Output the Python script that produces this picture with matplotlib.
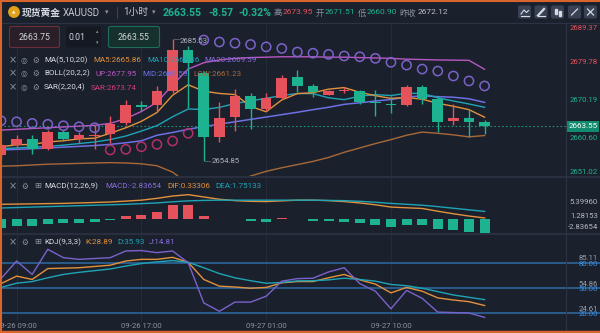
import numpy as np
import matplotlib
matplotlib.use("Agg")
import matplotlib.pyplot as plt
from matplotlib.patches import Rectangle, FancyBboxPatch, Circle

plt.rcParams['font.family'] = ['Roboto', 'Noto Sans CJK SC', 'DejaVu Sans']

# ---- 1h XAUUSD candles -------------------------------------------------------
opens = [2656.2, 2658.8, 2660.35, 2657.9, 2662.1, 2660.35, 2661.1, 2661.6,
         2664.4, 2668.85, 2668.85, 2672.5, 2682.9, 2677.0, 2660.8, 2665.9,
         2671.3, 2667.9, 2670.7, 2675.9, 2673.65, 2671.51, 2672.5, 2672.5,
         2669.7, 2669.2, 2668.85, 2673.55, 2670.5, 2664.8, 2665.65, 2664.7]
highs = [2659.4, 2661.3, 2661.3, 2662.7, 2662.7, 2662.2, 2663.96, 2666.1,
         2670.25, 2669.9, 2673.65, 2685.53, 2683.7, 2677.6, 2669.6, 2672.96,
         2671.96, 2671.96, 2676.6, 2677.7, 2674.2, 2672.8, 2673.4, 2672.8,
         2672.7, 2671.3, 2673.95, 2673.9, 2671.1, 2669.2, 2667.9, 2665.2]
lows = [2655.6, 2658.1, 2656.6, 2657.6, 2659.8, 2659.4, 2657.9, 2659.3,
        2663.96, 2667.3, 2667.3, 2671.9, 2668.2, 2654.85, 2659.6, 2662.3,
        2662.9, 2667.35, 2670.45, 2672.1, 2670.9, 2671.4, 2671.96, 2669.3,
        2666.2, 2666.9, 2668.6, 2669.2, 2662.1, 2663.8, 2660.90, 2661.6]
closes = [2658.9, 2660.4, 2657.9, 2662.0, 2660.35, 2661.3, 2661.25, 2664.2,
          2668.85, 2668.5, 2672.5, 2682.9, 2679.6, 2660.8, 2665.65, 2671.1,
          2667.9, 2670.7, 2675.7, 2673.65, 2672.2, 2672.4, 2672.7, 2669.7,
          2669.4, 2668.85, 2673.55, 2670.45, 2664.6, 2665.6, 2664.6, 2663.55]

ma5 = [2658.4, 2658.9, 2659.0, 2659.6, 2659.91, 2660.39, 2660.55, 2661.81,
       2663.18, 2664.81, 2667.05, 2671.39, 2674.03, 2672.42, 2671.85, 2671.57,
       2668.57, 2667.23, 2670.21, 2671.81, 2672.03, 2672.93, 2673.33, 2672.13,
       2671.28, 2670.61, 2670.84, 2670.39, 2669.37, 2668.61, 2667.76, 2665.86]
ma10 = [2657.9, 2658.1, 2658.3, 2658.5, 2658.8, 2659.2, 2659.6, 2660.2,
        2661.1, 2662.36, 2663.72, 2665.97, 2667.92, 2667.80, 2668.33, 2669.31,
        2669.98, 2670.63, 2671.32, 2671.83, 2671.80, 2670.75, 2670.28, 2671.17,
        2671.55, 2671.32, 2671.89, 2671.86, 2670.75, 2669.95, 2669.19, 2668.36]
ma20 = [2657.6, 2657.75, 2657.9, 2658.1, 2658.3, 2658.5, 2658.7, 2659.0,
        2659.4, 2659.9, 2661.3, 2662.0, 2662.8, 2663.5, 2664.1, 2664.7,
        2665.3, 2665.9, 2666.5, 2667.10, 2667.76, 2668.36, 2669.10, 2669.49,
        2669.94, 2670.32, 2670.94, 2671.25, 2671.04, 2670.89, 2670.50, 2669.59]
boll_up = [2662.6, 2662.8, 2663.0, 2663.2, 2663.4, 2663.6, 2663.8, 2664.3,
           2665.5, 2667.3, 2669.6, 2674.0, 2678.0, 2679.6, 2680.3, 2680.7,
           2680.9, 2681.0, 2681.1, 2681.1, 2681.1, 2681.0, 2681.0, 2680.9,
           2680.8, 2680.7, 2680.5, 2680.4, 2680.3, 2680.25, 2680.2, 2677.95]
boll_low = [2653.5, 2653.6, 2653.8, 2654.0, 2654.1, 2654.2, 2654.3, 2654.4,
            2654.3, 2654.1, 2653.6, 2652.0, 2649.0, 2647.5, 2647.8, 2649.5,
            2651.0, 2652.2, 2653.1, 2653.9, 2654.7, 2655.7, 2657.0, 2658.1,
            2659.2, 2660.2, 2661.3, 2662.1, 2661.8, 2661.4, 2660.9, 2661.23]
sar = [2664.97, 2664.7, 2664.3, 2664.06, 2663.7, 2663.45, 2663.2, 2657.6,
       2657.75, 2658.4, 2659.0, 2659.85, 2661.8, 2685.33, 2684.83, 2684.53,
       2684.2, 2683.6, 2683.2, 2682.3, 2682.0, 2681.7, 2681.3, 2681.1,
       2680.7, 2679.7, 2679.0, 2678.0, 2677.5, 2676.25, 2675.0, 2673.74]

macd_hist = [-1.79, -1.44, -1.44, -0.93, -0.86, -0.79, -0.6, -0.2,
             0.72, 0.93, 1.65, 3.08, 3.2, 0.79, 0.2, 0.15,
             -0.3, -0.5, 0.25, 0.2, -0.3, -0.35, -0.5, -0.85,
             -1.3, -1.67, -1.23, -1.3, -2.17, -2.39, -2.68, -2.83654]
dif = [3.3, 3.35, 3.4, 3.45, 3.5, 3.6, 3.7, 3.8, 4.0, 4.2, 4.6, 5.1, 5.4, 4.9,
       4.4, 4.1, 3.95, 3.9, 4.05, 4.2, 4.2, 4.1, 3.9, 3.6, 3.2, 2.7, 2.55, 2.4,
       1.8, 1.25, 0.75, 0.33306]
dea = [2.5, 2.6, 2.7, 2.8, 2.9, 3.0, 3.1, 3.2, 3.3, 3.45, 3.6, 3.85, 4.05,
       4.15, 4.2, 4.2, 4.2, 4.2, 4.2, 4.2, 4.2, 4.15, 4.1, 3.95, 3.75, 3.5,
       3.3, 3.1, 2.8, 2.45, 2.1, 1.75133]

k_line = [55, 64, 60, 73, 73.5, 74, 75.5, 77, 82, 84, 84, 86.4, 80.5, 60, 52,
          51, 49.5, 50.5, 56, 57.5, 57.5, 62, 66, 59.5, 54.5, 44, 50.5, 46, 38,
          35.5, 33.5, 28.89]
d_line = [50.5, 55.5, 57.5, 62, 66, 68.5, 70.5, 72.5, 76, 79, 81, 82.5, 80.5,
          74, 67, 62, 58.5, 55.5, 56.5, 58.3, 58.5, 59.5, 61.5, 60, 58, 54,
          52.5, 49.5, 45.5, 41.5, 38.7, 35.93]
j_line = [61, 82, 66, 96, 86, 84, 85, 86, 94, 94.5, 92, 94, 80, 32, 22, 33, 33,
          40, 58, 61, 61.5, 69, 74, 55, 46, 25, 47, 37.5, 21, 20.5, 20, 14.81]

time_ticks = [1, 9, 17, 25]
time_labels = ["09-26 09:00", "09-26 17:00", "09-27 01:00", "09-27 10:00"]
price_ticks = [2689.37, 2679.78, 2670.19, 2660.60, 2651.02]
macd_ticks = ["5.39960", "1.28153", "-2.83654"]
kdj_levels = [80, 50, 20]
kdj_marks = [85.11, 54.86, 24.61]
last_price = 2663.55

# ---- colours -----------------------------------------------------------------
BG = '#1b212c'
UPC = '#e5525c'
DNC = '#1db391'
GRID = '#252c39'
SEP = '#2c3343'
TXT = '#d6dae1'
GREY = '#8d939e'
ORANGE = '#e2913c'
TEAL = '#1ea4b6'
PURPLE = '#8a6ce0'
VIOLET = '#6c70e4'
MAGENTA = '#b956c2'
BROWN = '#a8693a'
SAR_UP = '#7c62c9'
SAR_DN = '#b2306a'
KBLUE = '#2c6ba6'

W, H = 600, 333
XLIM = (-0.064, 38.4)
fig = plt.figure(figsize=(W / 100, H / 100), dpi=100, facecolor=BG)


def px_axes(x0, y0, w, h, zorder=1):
    a = fig.add_axes([x0 / W, 1 - (y0 + h) / H, w / W, h / H], zorder=zorder)
    a.axis('off')
    return a


idx = np.arange(len(closes))

# ---- main price panel ----------------------------------------------------------
MAIN_TOP, MAIN_H = 24, 152
PMIN, PMAX = price_ticks[-1], price_ticks[0]
ax = px_axes(0, MAIN_TOP, W, MAIN_H)
ax.set_xlim(*XLIM)
ax.set_ylim(PMIN, PMAX)
for t in time_ticks:
    ax.axvline(t, color=GRID, lw=0.8, zorder=0)

ax.plot(idx, boll_up, color=MAGENTA, lw=1.0, zorder=2)
ax.plot(idx, boll_low, color=BROWN, lw=1.0, zorder=2)
ax.plot(idx, ma20, color=VIOLET, lw=1.1, zorder=2)
ax.plot(idx, ma10, color=TEAL, lw=1.0, zorder=2)
ax.plot(idx, ma5, color=ORANGE, lw=1.0, zorder=2)

for i in idx:
    o, h, l, c = opens[i], highs[i], lows[i], closes[i]
    col = UPC if c > o else DNC
    ax.vlines(i, l, h, color=col, lw=1.0, zorder=3)
    ax.add_patch(Rectangle((i - 0.34, min(o, c)), 0.68, max(abs(c - o), 0.25),
                           facecolor=col, edgecolor='none', zorder=3))

sar_a = np.array(sar)
above = sar_a > np.array(closes)
ax.scatter(idx[above], sar_a[above], s=44, facecolors='none', edgecolors=SAR_UP,
           linewidths=1.1, zorder=4)
ax.scatter(idx[~above], sar_a[~above], s=44, facecolors='none', edgecolors=SAR_DN,
           linewidths=1.1, zorder=4)
ax.axhline(last_price, xmin=0, xmax=566 / W, color='#1f8f78', lw=0.8,
           ls=(0, (1.5, 2.0)), zorder=1)

# ---- MACD panel ----------------------------------------------------------------
ax2 = px_axes(0, 178, W, 55)
ax2.set_xlim(*XLIM)
ax2.set_ylim(-2.935, 9.02)
for t in time_ticks:
    ax2.axvline(t, color=GRID, lw=0.8, zorder=0)
ax2.bar(idx, macd_hist, width=0.64,
        color=[UPC if v > 0 else DNC for v in macd_hist], zorder=2)
ax2.plot(idx, dif, color=ORANGE, lw=1.0, zorder=3)
ax2.plot(idx, dea, color=TEAL, lw=1.0, zorder=3)

# ---- KDJ panel -----------------------------------------------------------------
ax3 = px_axes(0, 234, W, 88)
ax3.set_xlim(*XLIM)
ax3.set_ylim(9.24, 114.25)
for t in time_ticks:
    ax3.axvline(t, color=GRID, lw=0.8, zorder=0)
for lv in kdj_levels:
    ax3.axhline(lv, color=KBLUE, lw=1.1, zorder=1)
ax3.plot(idx, k_line, color=ORANGE, lw=1.0, zorder=3)
ax3.plot(idx, d_line, color=TEAL, lw=1.0, zorder=3)
ax3.plot(idx, j_line, color='#7a62cc', lw=1.0, zorder=3)

# ---- overlay in pixel coordinates ---------------------------------------------
ov = px_axes(0, 0, W, H, zorder=10)
ov.set_xlim(0, W)
ov.set_ylim(H, 0)


def cx(i):
    return 1 + 15.6 * i


def main_y(v):
    return MAIN_TOP + (PMAX - v) * MAIN_H / (PMAX - PMIN)


def kdj_y(v):
    return 234 + (114.25 - v) * 88 / (114.25 - 9.24)


def txt(x, y, s, color=TXT, size=5.8, ha='left', va='center', **kw):
    ov.text(x, y, s, color=color, fontsize=size, ha=ha, va=va, **kw)


# frame and separators
ov.plot([0, W], [23, 23], color=SEP, lw=0.8)
ov.plot([0, W], [177, 177], color=SEP, lw=1.2)
ov.plot([0, W], [233.5, 233.5], color=SEP, lw=1.2)
ov.plot([566, 566], [23, 331], color=SEP, lw=0.8)
ov.plot([0, W], [0.5, 0.5], color='#d8652e', lw=1.5)
ov.plot([0, W], [332, 332], color='#d8652e', lw=2.5)
ov.plot([0.5, 0.5], [0, H], color='#d8652e', lw=1.5)

# header
ov.add_patch(Circle((14, 12), 5.2, color='#e3a21a'))
txt(14, 12.3, '▲', color='white', size=3.2, ha='center', family='DejaVu Sans')
txt(22, 12.5, '现货黄金', size=7, weight='bold')
txt(63, 12.5, 'XAUUSD', color='#c4c8cf', size=7)
txt(105, 12.5, '▾', color=GREY, size=5, family='DejaVu Sans')
ov.plot([117, 117], [7, 18], color='#3a4150', lw=0.8)
txt(123, 12.5, '1小时', color='#c4c8cf', size=7)
txt(152, 12.5, '▾', color=GREY, size=5, family='DejaVu Sans')
txt(163, 12.5, '2663.55', color=DNC, size=7.6, weight='bold')
txt(208, 12.5, '-8.57', color=DNC, size=7.6, weight='bold')
txt(238, 12.5, '-0.32%', color=DNC, size=7.6, weight='bold')
txt(274, 12.5, '高', color=GREY, size=6)
txt(283, 12.5, '2673.95', color=UPC, size=6)
txt(316, 12.5, '开', color=GREY, size=6)
txt(325, 12.5, '2671.51', color=DNC, size=6)
txt(358, 12.5, '低', color=GREY, size=6)
txt(367, 12.5, '2660.90', color=DNC, size=6)
txt(399, 12.5, '昨收', color=GREY, size=6)
txt(418, 12.5, '2672.12', color='#b9bec6', size=6)

# toolbar buttons
for bx in [518, 534.5, 551, 568, 584]:
    ov.add_patch(FancyBboxPatch((bx, 5.5), 13, 13, boxstyle='round,pad=0,rounding_size=2',
                                facecolor='#394254', edgecolor='none'))
ov.plot([521, 524, 526.5, 528.5], [14, 10, 12.5, 10.5], color=TXT, lw=0.8)
ov.plot([521, 528.5], [15.5, 15.5], color=TXT, lw=0.8)
ov.plot([538, 544], [15.5, 9], color=TXT, lw=1.6)
ov.plot([537.5, 544.5], [15.8, 15.8], color=TXT, lw=0.8)
ov.add_patch(Rectangle((554.5, 9), 2.5, 5, color=TXT))
ov.add_patch(Rectangle((558.5, 10.5), 2.5, 5, color=TXT))
ov.plot([571.5, 577.5], [15, 9], color=TXT, lw=0.9)
ov.plot([587.5, 593.5], [9, 15], color=TXT, lw=0.9)
ov.plot([587.5, 593.5], [15, 9], color=TXT, lw=0.9)

# order boxes
ov.add_patch(FancyBboxPatch((9.5, 26.5), 50, 21, boxstyle='round,pad=0,rounding_size=2',
                            facecolor='#2a1f29', edgecolor='#6a2f3b', lw=0.8))
txt(34.5, 37.5, '2663.75', color='#cfd3da', size=6.3, ha='center')
ov.add_patch(FancyBboxPatch((66, 26.5), 35, 21, boxstyle='round,pad=0,rounding_size=2',
                            facecolor='#141922', edgecolor='none'))
txt(77, 37.5, '0.01', color='#cfd3da', size=6.3, ha='center')
txt(97.5, 32, '▴', color=GREY, size=3.5, ha='center', family='DejaVu Sans')
txt(97.5, 43, '▾', color=GREY, size=3.5, ha='center', family='DejaVu Sans')
ov.add_patch(FancyBboxPatch((108.5, 26.5), 51, 21, boxstyle='round,pad=0,rounding_size=2',
                            facecolor='#16302d', edgecolor='#1d6d5a', lw=0.8))
txt(134, 37.5, '2663.55', color='#cfd3da', size=6.3, ha='center')


# indicator legends
def icons(y, third='⚙'):
    txt(13, y, '×', color=GREY, size=7, ha='center', family='DejaVu Sans')
    txt(24, y, '◎', color=GREY, size=5.5, ha='center', family='DejaVu Sans')
    txt(36, y, third, color=GREY, size=5.5, ha='center', family='DejaVu Sans')


icons(60.5, '⚙')
txt(44, 60.5, 'MA(5,10,20)')
txt(93, 60.5, 'MA5:2665.86', color=ORANGE)
txt(147, 60.5, 'MA10:2668.36', color=TEAL)
txt(204, 60.5, 'MA20:2669.59', color=PURPLE)
icons(73.5, '⚙')
txt(44, 73.5, 'BOLL(20,2,2)')
txt(95, 73.5, 'UP:2677.95', color=MAGENTA)
txt(142, 73.5, 'MID:2669.59', color=VIOLET)
txt(193, 73.5, 'LOW:2661.23', color=BROWN)
icons(87.5, '⚙')
txt(44, 87.5, 'SAR(2,20,4)')
txt(91, 87.5, 'SAR:2673.74', color='#cf3f7a')

txt(13, 186, '×', color=GREY, size=7, ha='center', family='DejaVu Sans')
txt(25, 186, '⚙', color=GREY, size=5.5, ha='center', family='DejaVu Sans')
txt(38, 186, '⊞', color=GREY, size=6, ha='center', family='DejaVu Sans')
txt(44, 186, 'MACD(12,26,9)')
txt(105, 186, 'MACD:-2.83654', color=PURPLE)
txt(167, 186, 'DIF:0.33306', color=ORANGE)
txt(215, 186, 'DEA:1.75133', color=TEAL)

txt(13, 242, '×', color=GREY, size=7, ha='center', family='DejaVu Sans')
txt(25, 242, '⚙', color=GREY, size=5.5, ha='center', family='DejaVu Sans')
txt(38, 242, '⊞', color=GREY, size=6, ha='center', family='DejaVu Sans')
txt(44, 242, 'KDJ(9,3,3)')
txt(85, 242, 'K:28.89', color=ORANGE)
txt(117, 242, 'D:35.93', color=TEAL)
txt(149, 242, 'J:14.81', color=PURPLE)

# high / low markers
hi_i = int(np.argmax(highs))
lo_i = int(np.argmin(lows))
ov.plot([cx(hi_i) + 1, cx(hi_i) + 7], [main_y(highs[hi_i])] * 2, color=GREY,
        lw=0.7, ls=(0, (1, 1)))
txt(cx(hi_i) + 7.5, main_y(highs[hi_i]) + 1.5, f'{highs[hi_i]:.2f}', color='#b0b5bd', size=5.6)
ov.plot([cx(lo_i) + 1, cx(lo_i) + 7], [main_y(lows[lo_i])] * 2, color=GREY,
        lw=0.7, ls=(0, (1, 1)))
txt(cx(lo_i) + 7.5, main_y(lows[lo_i]) + 0.5, f'{lows[lo_i]:.2f}', color='#b0b5bd', size=5.6)

# price scale
prev_close = 2672.12
for k, v in enumerate(price_ticks):
    col = UPC if v > prev_close else DNC
    if k == 0:
        txt(598, main_y(v) + 1, f'{v:.2f}', color=col, size=5.6, ha='right', va='top')
    elif k == len(price_ticks) - 1:
        txt(598, main_y(v) - 1, f'{v:.2f}', color=col, size=5.6, ha='right', va='bottom')
    else:
        yv = main_y(v)
        if abs(yv - main_y(last_price)) < 9:
            yv = main_y(last_price) + 13.5
        txt(598, yv, f'{v:.2f}', color=col, size=5.6, ha='right')
ly = main_y(last_price)
ov.add_patch(Rectangle((567, ly - 5.5), 32, 11, facecolor='#128a6d', edgecolor='none'))
txt(583, ly, f'{last_price:.2f}', color='white', size=5.8, ha='center')

for y, s in zip([202, 215.7, 227.3], macd_ticks):
    txt(598, y, s, color='#b3b8c0', size=5.6, ha='right')

for lv, mk in zip(kdj_levels, kdj_marks):
    txt(598, kdj_y(mk), f'{mk:.2f}', color='#9ca2ac', size=5.6, ha='right')
    txt(598, kdj_y(lv) + 1, f'{lv:.2f}', color='#3d8fe0', size=5.6, ha='right')

for t, s in zip(time_ticks, time_labels):
    txt(cx(t), 326.5, s, color=GREY, size=5.6, ha='center')

fig.savefig('out.png', dpi=100, facecolor=BG)
